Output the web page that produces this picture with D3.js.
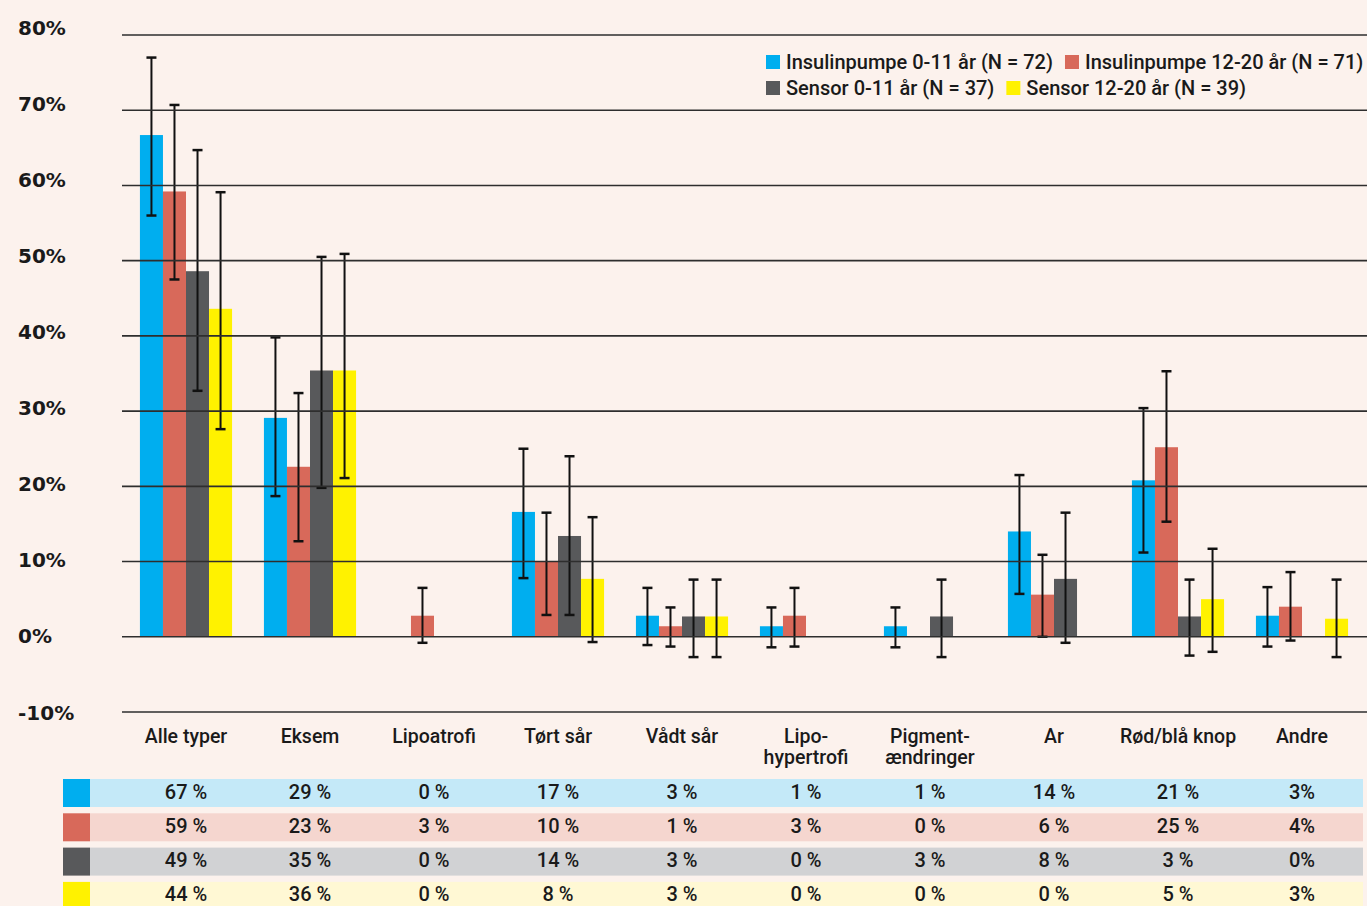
<!DOCTYPE html>
<html>
<head>
<meta charset="utf-8">
<title>Hudreaktioner</title>
<style>
	body { margin: 0; background: #fcf2ed; }
	svg { display: block; }
	.ylab { font-family: 'DejaVu Sans', sans-serif; font-weight: bold; font-size: 20px; fill: #1a1a1a; }
	.txt { font-family: Roboto, sans-serif; font-weight: 500; font-size: 20px; fill: #1a1a1a; }
	.cat { font-size: 19.5px; }
	.grid line { stroke: #2e2e2e; stroke-width: 1.6px; }
	.err { stroke: #111; stroke-width: 2px; }
	.cap { stroke: #111; stroke-width: 2.5px; }
</style>
</head>
<body>
<script src="https://cdn.jsdelivr.net/npm/d3@7"></script>
<script>
	'use strict';

	// data (percent)
	const categories = ['Alle typer', 'Eksem', 'Lipoatrofi', 'Tørt sår', 'Vådt sår', 'Lipo-|hypertrofi', 'Pigment-|ændringer', 'Ar', 'Rød/blå knop', 'Andre'];
	const seriesNames = ['Insulinpumpe 0-11 år (N = 72)', 'Insulinpumpe 12-20 år (N = 71)', 'Sensor 0-11 år (N = 37)', 'Sensor 12-20 år (N = 39)'];
	const colors = ['#00aeef', '#d8695a', '#58595b', '#fff200'];
	const rowColors = ['#c4e9f8', '#f5d6cf', '#d1d2d4', '#fff8d4'];

	const pumpYoung = [66.7, 29.1, null, 16.6, 2.8, 1.4, 1.4, 14.0, 20.8, 2.8];
	const pumpOld = [59.2, 22.6, 2.8, 10.0, 1.4, 2.8, null, 5.6, 25.2, 4.0];
	const sensorYoung = [48.6, 35.4, null, 13.4, 2.7, null, 2.7, 7.7, 2.7, null];
	const sensorOld = [43.6, 35.4, null, 7.7, 2.7, null, null, null, 5.0, 2.4];

	const pumpYoungLo = [56.0, 18.7, null, 7.8, -1.1, -1.4, -1.4, 5.7, 11.2, -1.3];
	const pumpYoungHi = [77.0, 39.8, null, 25.0, 6.5, 3.9, 3.9, 21.5, 30.4, 6.6];
	const pumpOldLo = [47.5, 12.7, -0.8, 2.9, -1.3, -1.3, null, 0, 15.3, -0.5];
	const pumpOldHi = [70.7, 32.4, 6.5, 16.5, 3.9, 6.5, null, 10.9, 35.3, 8.6];
	const sensorYoungLo = [32.7, 19.8, null, 2.9, -2.7, null, -2.7, -0.8, -2.5, null];
	const sensorYoungHi = [64.7, 50.5, null, 24.0, 7.6, null, 7.6, 16.5, 7.6, null];
	const sensorOldLo = [27.6, 21.1, null, -0.7, -2.7, null, null, null, -2.0, -2.7];
	const sensorOldHi = [59.1, 50.9, null, 15.9, 7.6, null, null, null, 11.7, 7.6];

	const tablePumpYoung = ['67 %', '29 %', '0 %', '17 %', '3 %', '1 %', '1 %', '14 %', '21 %', '3%'];
	const tablePumpOld = ['59 %', '23 %', '3 %', '10 %', '1 %', '3 %', '0 %', '6 %', '25 %', '4%'];
	const tableSensorYoung = ['49 %', '35 %', '0 %', '14 %', '3 %', '0 %', '3 %', '8 %', '3 %', '0%'];
	const tableSensorOld = ['44 %', '36 %', '0 %', '8 %', '3 %', '0 %', '0 %', '0 %', '5 %', '3%'];

	const yTicks = [80, 70, 60, 50, 40, 30, 20, 10, 0, -10];

	const series = [
		{values: pumpYoung, lo: pumpYoungLo, hi: pumpYoungHi, table: tablePumpYoung},
		{values: pumpOld, lo: pumpOldLo, hi: pumpOldHi, table: tablePumpOld},
		{values: sensorYoung, lo: sensorYoungLo, hi: sensorYoungHi, table: tableSensorYoung},
		{values: sensorOld, lo: sensorOldLo, hi: sensorOldHi, table: tableSensorOld}
	];

	const W = 1367, H = 906;
	const svg = d3.select('body').append('svg').attr('width', W).attr('height', H);

	const y = d3.scaleLinear().domain([-10, 80]).range([712, 35]);
	const x0 = d3.scaleBand().domain(categories).range([124, 1364]).paddingInner(0.257).paddingOuter(0.1285);
	const x1 = d3.scaleBand().domain(d3.range(4)).range([0, x0.bandwidth()]);

	// bars
	const groups = svg.append('g').selectAll('g')
		.data(categories)
		.join('g')
		.attr('transform', function(d) { return 'translate(' + x0(d) + ',0)'; });

	groups.selectAll('rect')
		.data(function(d, i) { return series.map(function(s, k) { return {k: k, v: s.values[i]}; }).filter(function(e) { return e.v !== null; }); })
		.join('rect')
		.attr('x', function(d) { return x1(d.k); })
		.attr('width', x1.bandwidth())
		.attr('y', function(d) { return y(d.v); })
		.attr('height', function(d) { return y(0) - y(d.v); })
		.attr('fill', function(d) { return colors[d.k]; });

	// gridlines on top of the bars
	svg.append('g').attr('class', 'grid')
		.selectAll('line')
		.data(yTicks)
		.join('line')
		.attr('x1', 122).attr('x2', W)
		.attr('y1', function(d) { return y(d); })
		.attr('y2', function(d) { return y(d); });

	svg.append('g').selectAll('text')
		.data(yTicks)
		.join('text')
		.attr('class', 'ylab')
		.attr('x', 18)
		.attr('y', function(d) { return y(d) - 0.5 - d * 0.085; })
		.attr('dy', '0.36em')
		.text(function(d) { return d + '%'; });

	// error bars
	const errs = groups.selectAll('g.eb')
		.data(function(d, i) { return series.map(function(s, k) { return {k: k, lo: s.lo[i], hi: s.hi[i]}; }).filter(function(e) { return e.lo !== null; }); })
		.join('g')
		.attr('class', 'eb')
		.attr('transform', function(d) { return 'translate(' + (x1(d.k) + x1.bandwidth() / 2) + ',0)'; });

	errs.append('line').attr('class', 'err')
		.attr('y1', function(d) { return y(d.lo); })
		.attr('y2', function(d) { return y(d.hi); });
	errs.append('line').attr('class', 'cap')
		.attr('x1', -5).attr('x2', 5)
		.attr('y1', function(d) { return y(d.hi); })
		.attr('y2', function(d) { return y(d.hi); });
	errs.append('line').attr('class', 'cap')
		.attr('x1', -5).attr('x2', 5)
		.attr('y1', function(d) { return y(d.lo); })
		.attr('y2', function(d) { return y(d.lo); });

	// category labels (two-line ones as separate texts)
	const catLines = [];
	categories.forEach(function(c) {
		c.split('|').forEach(function(part, j) {
			catLines.push({cat: c, text: part, line: j});
		});
	});
	svg.append('g').selectAll('text')
		.data(catLines)
		.join('text')
		.attr('class', 'txt cat')
		.attr('text-anchor', 'middle')
		.attr('x', function(d) { return x0(d.cat) + x0.bandwidth() / 2; })
		.attr('y', function(d) { return 743 + d.line * 21; })
		.text(function(d) { return d.text; });

	// legend
	const legendRows = [[0, 1], [2, 3]];
	legendRows.forEach(function(row, r) {
		let lx = 766;
		const ly = 62 + r * 26;
		row.forEach(function(k) {
			svg.append('rect')
				.attr('x', lx).attr('y', ly - 7)
				.attr('width', 14).attr('height', 14)
				.attr('fill', colors[k]);
			const t = svg.append('text')
				.attr('class', 'txt')
				.attr('x', lx + 20).attr('y', ly)
				.attr('dy', '0.35em')
				.text(seriesNames[k]);
			lx += 20 + t.node().getComputedTextLength() + 12;
		});
	});

	// table below the chart
	series.forEach(function(s, k) {
		const ty = 779 + k * 34.3;
		svg.append('rect')
			.attr('x', 63).attr('y', ty).attr('width', 27).attr('height', 28)
			.attr('fill', colors[k]);
		svg.append('rect')
			.attr('x', 90).attr('y', ty).attr('width', 1273).attr('height', 28)
			.attr('fill', rowColors[k]);
		svg.append('g').selectAll('text')
			.data(s.table)
			.join('text')
			.attr('class', 'txt')
			.attr('text-anchor', 'middle')
			.attr('x', function(d, i) { return x0(categories[i]) + x0.bandwidth() / 2; })
			.attr('y', ty + 12.5)
			.attr('dy', '0.35em')
			.text(function(d) { return d; });
	});
</script>
</body>
</html>
